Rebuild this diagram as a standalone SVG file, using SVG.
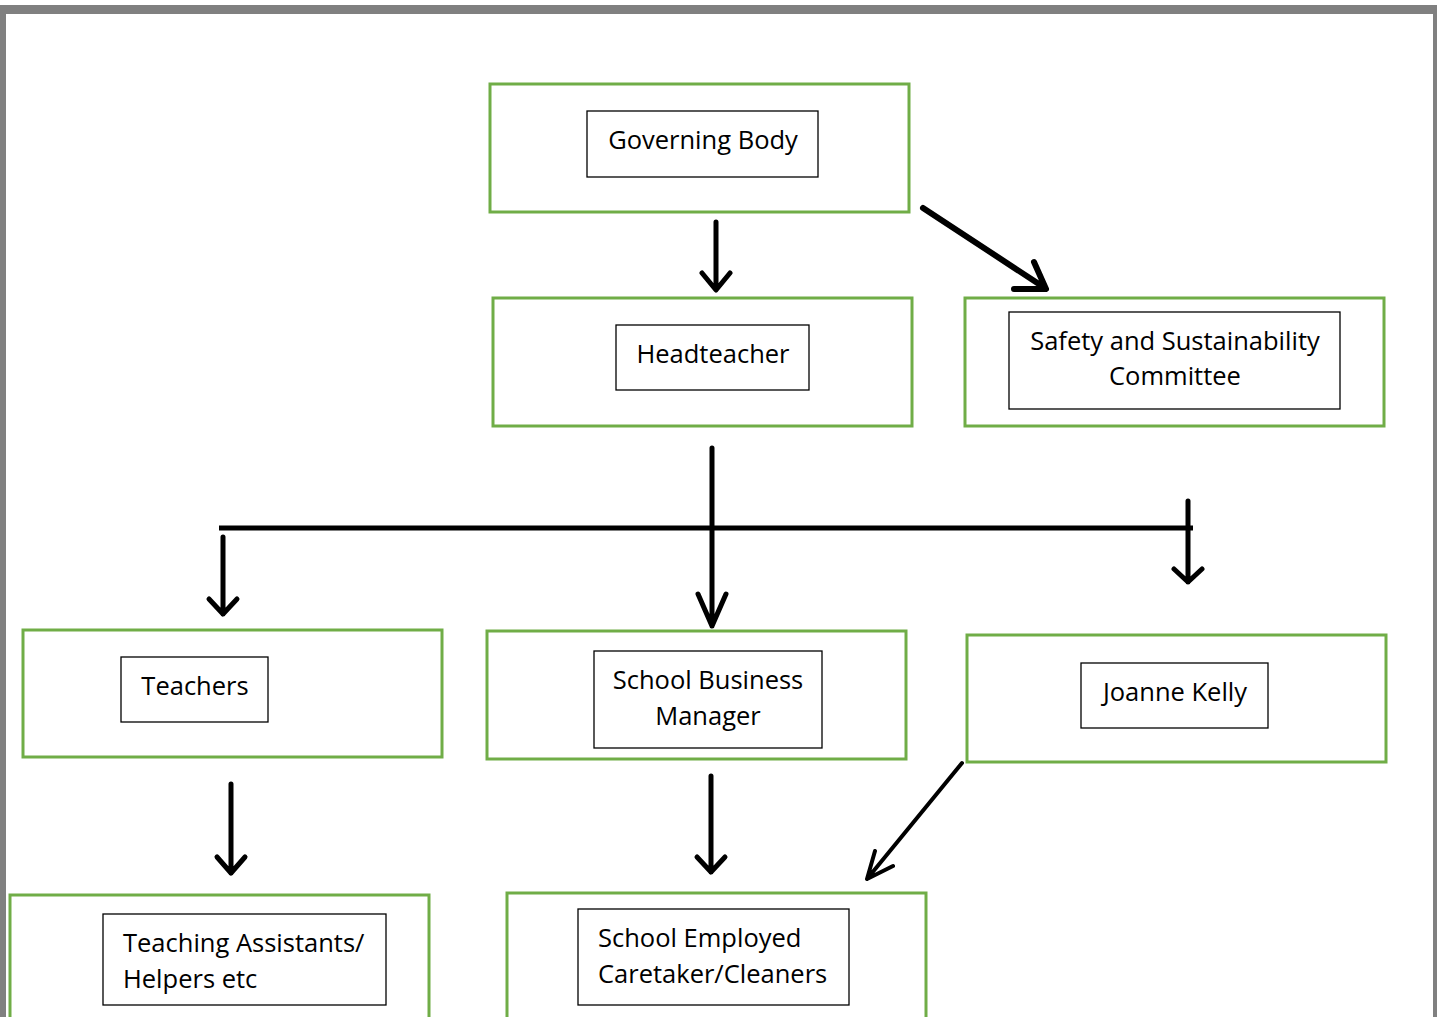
<svg xmlns="http://www.w3.org/2000/svg" width="1437" height="1017" viewBox="0 0 1437 1017">
<style>
.outer{fill:#fff;stroke:#70ad47;stroke-width:3}
.inner{fill:#fff;stroke:#000;stroke-width:1.3}
.t{font-family:"Open Sans","Liberation Sans",sans-serif;font-size:25.5px;fill:#000;text-anchor:middle}
.ln{stroke:#000;stroke-width:5;stroke-linecap:round;fill:none;stroke-linejoin:round}
</style>
<rect x="0" y="0" width="1437" height="1017" fill="#fff"/>
<rect x="0" y="5" width="1437" height="1012" fill="#808080"/>
<rect x="6" y="14" width="1427" height="1003" fill="#fff"/>
<g id="governing">
<rect class="outer" x="490" y="84" width="419" height="128"/>
<rect class="inner" x="587" y="111" width="231" height="66"/>
<text class="t" x="703" y="149">Governing Body</text>
</g>
<g id="headteacher">
<rect class="outer" x="493" y="298" width="419" height="128"/>
<rect class="inner" x="616" y="325" width="193" height="65"/>
<text class="t" x="713" y="363">Headteacher</text>
</g>
<g id="safety">
<rect class="outer" x="965" y="298" width="419" height="128"/>
<rect class="inner" x="1009" y="312" width="331" height="97"/>
<text class="t" x="1175" y="350">Safety and Sustainability</text>
<text class="t" x="1175" y="385">Committee</text>
</g>
<g id="teachers">
<rect class="outer" x="23" y="630" width="419" height="127"/>
<rect class="inner" x="121" y="657" width="147" height="65"/>
<text class="t" x="195" y="695">Teachers</text>
</g>
<g id="sbm">
<rect class="outer" x="487" y="631" width="419" height="128"/>
<rect class="inner" x="594" y="651" width="228" height="97"/>
<text class="t" x="708" y="689">School Business</text>
<text class="t" x="708" y="725">Manager</text>
</g>
<g id="joanne">
<rect class="outer" x="967" y="635" width="419" height="127"/>
<rect class="inner" x="1081" y="663" width="187" height="65"/>
<text class="t" x="1175" y="701">Joanne Kelly</text>
</g>
<g id="assistants">
<rect class="outer" x="10" y="895" width="419" height="140"/>
<rect class="inner" x="103" y="914" width="283" height="91"/>
<text class="t" x="123" y="952" style="text-anchor:start">Teaching Assistants/</text>
<text class="t" x="123" y="988" style="text-anchor:start">Helpers etc</text>
</g>
<g id="caretaker">
<rect class="outer" x="507" y="893" width="419" height="140"/>
<rect class="inner" x="578" y="909" width="271" height="96"/>
<text class="t" x="598" y="947" style="text-anchor:start">School Employed</text>
<text class="t" x="598" y="983" style="text-anchor:start">Caretaker/Cleaners</text>
</g>
<g id="connectors">
<path class="ln" d="M716 222 V289 M702 273 L716 290 L730 273"/>
<path class="ln" style="stroke-width:6" d="M923 208 L1045 288 M1034 262 L1046 289 L1014 289"/>
<path class="ln" d="M712 448 V626 M698 594 L712 626 L726 594"/>
<path class="ln" style="stroke-linecap:butt" d="M219 528 H1193"/>
<path class="ln" d="M223 537 V614 M209 599 L223 614 L237 599"/>
<path class="ln" d="M1188 501 V582 M1174 569 L1188 582 L1202 569"/>
<path class="ln" d="M231 784 V873 M217 857 L231 873 L245 857"/>
<path class="ln" d="M711 776 V872 M697 857 L711 872 L725 857"/>
<path class="ln" style="stroke-width:4" d="M962 763 L867 879 M875 851 L867 879 L893 866"/>
</g>
</svg>
